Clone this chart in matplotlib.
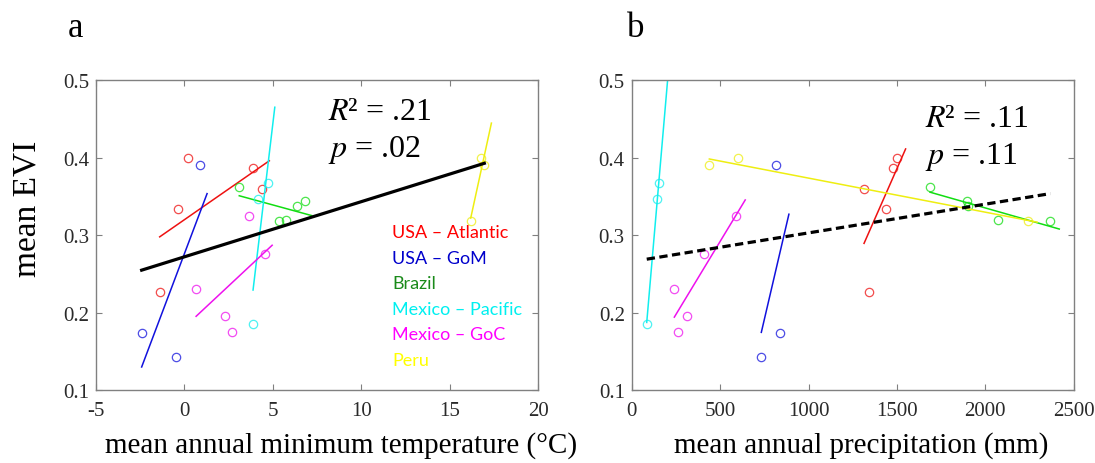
import numpy as np
import matplotlib
matplotlib.use("Agg")
import matplotlib.pyplot as plt

plt.rcParams['font.family'] = ['Liberation Serif', 'DejaVu Serif']
plt.rcParams['mathtext.fontset'] = 'stix'
plt.rcParams['axes.unicode_minus'] = False

# site groups and colours
groups = ['USA – Atlantic', 'USA – GoM', 'Brazil', 'Mexico – Pacific', 'Mexico – GoC', 'Peru']
line_colors = ['#ee1111', '#1111dd', '#11dd11', '#11eeee', '#ee11ee', '#eeee11']
text_colors = ['#ff0000', '#0000cc', '#1a8a1a', '#00f0f0', '#ff00ff', '#ffff00']

# mean EVI per site (same sites in both panels)
evi_atl = [0.399, 0.387, 0.360, 0.334, 0.226]
evi_gom = [0.391, 0.173, 0.142]
evi_bra = [0.3615, 0.344, 0.337, 0.319, 0.318]
evi_pac = [0.367, 0.346, 0.185]
evi_goc = [0.3245, 0.2755, 0.230, 0.196, 0.175]
evi_per = [0.400, 0.390, 0.318]

# mean annual minimum temperature (deg C)
tmin_atl = [0.2, 3.9, 4.4, -0.35, -1.4]
tmin_gom = [0.88, -2.42, -0.48]
tmin_bra = [3.1, 6.8, 6.35, 5.75, 5.35]
tmin_pac = [4.71, 4.15, 3.88]
tmin_goc = [3.65, 4.56, 0.66, 2.31, 2.69]
tmin_per = [16.78, 16.96, 16.19]

# mean annual precipitation (mm)
prec_atl = [1499, 1476, 1314, 1438, 1344]
prec_gom = [814, 839, 733]
prec_bra = [1687, 1898, 1904, 2070, 2368]
prec_pac = [156, 141, 85]
prec_goc = [592, 411, 241, 311, 262]
prec_per = [600, 439, 2243]

evi = [evi_atl, evi_gom, evi_bra, evi_pac, evi_goc, evi_per]
tmin = [tmin_atl, tmin_gom, tmin_bra, tmin_pac, tmin_goc, tmin_per]
prec = [prec_atl, prec_gom, prec_bra, prec_pac, prec_goc, prec_per]

stats_a = ['$R$² = .21', '$p$ = .02']
stats_b = ['$R$² = .11', '$p$ = .11']

fig = plt.figure(figsize=(10.95, 4.64), dpi=100)
ax1 = fig.add_axes([0.0877, 0.1573, 0.4037, 0.668])
ax2 = fig.add_axes([0.5769, 0.1573, 0.4037, 0.668])


def panel(ax, xs, pad, dashed):
    allx, ally = [], []
    for x, y, c in zip(xs, evi, line_colors):
        ax.plot(x, y, 'o', mfc='none', mec=c, ms=6, mew=0.9, alpha=0.75)
        k, b = np.polyfit(x, y, 1)
        xx = np.array([min(x), max(x) + pad])
        ax.plot(xx, k * xx + b, color=c, lw=1.1)
        allx += list(x)
        ally += list(y)
    k, b = np.polyfit(allx, ally, 1)
    xx = np.array([min(allx), max(allx)])
    if dashed:
        ax.plot(xx, k * xx + b, color='black', lw=2.3, ls=(0, (2.6, 1.4)))
    else:
        ax.plot(xx, k * xx + b, color='black', lw=2.3)
    ax.set_ylim(0.1, 0.5)
    ax.set_yticks([0.1, 0.2, 0.3, 0.4, 0.5])
    ax.set_yticklabels(['0.1', '0.2', '0.3', '0.4', '0.5'])
    ax.tick_params(direction='in', top=True, right=True, length=4, color='#808080',
                   labelsize=15, labelcolor='#2a2a2a')
    ax.tick_params(axis='x', pad=8)
    ax.tick_params(axis='y', pad=5)
    for s in ax.spines.values():
        s.set_color('#808080')
        s.set_linewidth(1)


panel(ax1, tmin, 0.4, False)
ax1.set_xlim(-5, 20)
ax1.set_xticks([-5, 0, 5, 10, 15, 20])
ax1.text(8.1, 0.46, stats_a[0], fontsize=23, va='center')
ax1.text(8.1, 0.411, stats_a[1], fontsize=23, va='center')
for i, (g, c) in enumerate(zip(groups, text_colors)):
    ax1.text(11.75, 0.304 - i * 0.033, g, color=c, fontsize=13,
             family=['Lato', 'DejaVu Sans'], va='center')

panel(ax2, prec, 50, True)
ax2.set_xlim(0, 2500)
ax2.set_xticks([0, 500, 1000, 1500, 2000, 2500])
ax2.text(1660, 0.45, stats_b[0], fontsize=23, va='center')
ax2.text(1660, 0.402, stats_b[1], fontsize=23, va='center')

# axis labels and panel letters
fig.text(0.3119, 0.0388, 'mean annual minimum temperature (°C)', fontsize=21,
         ha='center', va='center')
fig.text(0.7868, 0.0388, 'mean annual precipitation (mm)', fontsize=21,
         ha='center', va='center')
fig.text(0.0247, 0.5496, 'mean EVI', fontsize=24, rotation=90, ha='center', va='center')
fig.text(0.0694, 0.920, 'a', fontsize=25, ha='center', va='baseline')
fig.text(0.5808, 0.920, 'b', fontsize=25, ha='center', va='baseline')

fig.savefig('out.png', dpi=100)
